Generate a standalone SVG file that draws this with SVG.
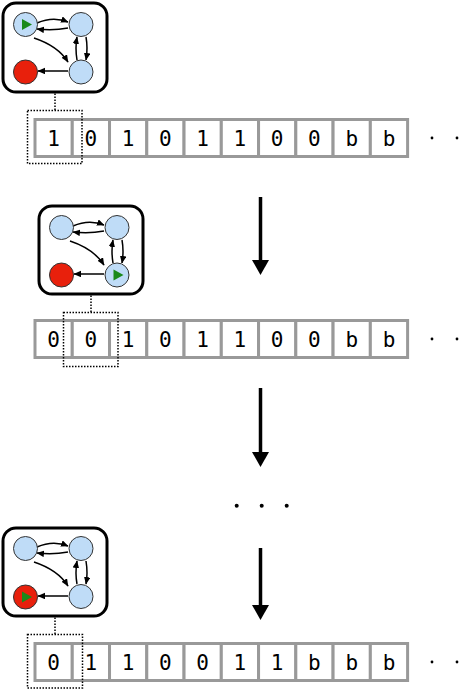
<svg xmlns="http://www.w3.org/2000/svg" width="462" height="691" viewBox="0 0 462 691">
<style>
.box{fill:#fff;stroke:#000;stroke-width:3}
.st{fill:#bfdcf7;stroke:#333;stroke-width:1}
.halt{fill:#e8200c;stroke:#333;stroke-width:1}
.tr{fill:none;stroke:#000;stroke-width:1.5;marker-end:url(#ah)}
.play{fill:#1a8a1a}
.cell{fill:#fff;stroke:#999;stroke-width:3}
.sym{font-family:"DejaVu Sans Mono","Liberation Mono",monospace;font-size:21px;text-anchor:middle;fill:#000}
.head{fill:none;stroke:#000;stroke-width:1.5;stroke-dasharray:1.5 1.5}
.big{stroke:#000;stroke-width:3.5;fill:none}
.dot{fill:#000}
</style>
<defs>
<marker id="ah" markerUnits="userSpaceOnUse" markerWidth="8" markerHeight="7" refX="7" refY="3.25" orient="auto">
<path d="M0,0 L7.5,3.25 L0,6.5 z" fill="#000"/>
</marker>
</defs>

<!-- machine 1 -->
<g id="machine1" transform="translate(3,3)">
<rect class="box" x="0" y="0" width="104" height="89" rx="13"/>
<g id="m1-transitions">
<path class="tr" d="M34,20 Q50,13 65,19"/>
<path class="tr" d="M65,25 Q50,28 34,26"/>
<path class="tr" d="M83,34 Q85,45 83,57"/>
<path class="tr" d="M74,57 Q72,45 74,34"/>
<path class="tr" d="M31,35 Q55,43 65,59"/>
<path class="tr" d="M65,68 L35,68"/>
</g>
<circle id="m1-a" class="st" cx="22.5" cy="21.5" r="12"/>
<circle id="m1-b" class="st" cx="78" cy="21.5" r="12"/>
<circle id="m1-c" class="halt" cx="22.5" cy="69" r="12"/>
<circle id="m1-d" class="st" cx="78" cy="69" r="12"/>
<polygon class="play" points="19,16 19,27 29,21.5"/>
</g>

<!-- machine 2 -->
<g id="machine2" transform="translate(39,206)">
<rect class="box" x="0" y="0" width="104" height="88" rx="13"/>
<g id="m2-transitions">
<path class="tr" d="M34,20 Q50,13 65,19"/>
<path class="tr" d="M65,25 Q50,28 34,26"/>
<path class="tr" d="M83,34 Q85,45 83,57"/>
<path class="tr" d="M74,57 Q72,45 74,34"/>
<path class="tr" d="M31,35 Q55,43 65,59"/>
<path class="tr" d="M65,68 L35,68"/>
</g>
<circle id="m2-a" class="st" cx="22.5" cy="21.5" r="12"/>
<circle id="m2-b" class="st" cx="78" cy="21.5" r="12"/>
<circle id="m2-c" class="halt" cx="22.5" cy="69" r="12"/>
<circle id="m2-d" class="st" cx="78" cy="69" r="12"/>
<polygon class="play" points="74.5,63.5 74.5,74.5 84.5,69"/>
</g>

<!-- machine 3 -->
<g id="machine3" transform="translate(3,528)">
<rect class="box" x="0" y="0" width="104" height="88" rx="13"/>
<g id="m3-transitions">
<path class="tr" d="M34,19 Q50,12 65,18"/>
<path class="tr" d="M65,24 Q50,27 34,25"/>
<path class="tr" d="M83,33 Q85,45 83,56"/>
<path class="tr" d="M74,56 Q72,45 74,33"/>
<path class="tr" d="M31,34 Q55,42 65,58"/>
<path class="tr" d="M65,68 L35,68"/>
</g>
<circle id="m3-a" class="st" cx="22.5" cy="20.5" r="12"/>
<circle id="m3-b" class="st" cx="78" cy="20.5" r="12"/>
<circle id="m3-c" class="halt" cx="22.5" cy="69" r="12"/>
<circle id="m3-d" class="st" cx="78" cy="68.5" r="12"/>
<polygon class="play" points="19,63.5 19,74.5 29,69"/>
</g>

<!-- tape 1 -->
<g id="tape1">
<rect class="cell" x="35" y="119.5" width="37.26" height="37"/>
<rect class="cell" x="72.26" y="119.5" width="37.26" height="37"/>
<rect class="cell" x="109.52" y="119.5" width="37.26" height="37"/>
<rect class="cell" x="146.78" y="119.5" width="37.26" height="37"/>
<rect class="cell" x="184.04" y="119.5" width="37.26" height="37"/>
<rect class="cell" x="221.3" y="119.5" width="37.26" height="37"/>
<rect class="cell" x="258.56" y="119.5" width="37.26" height="37"/>
<rect class="cell" x="295.82" y="119.5" width="37.26" height="37"/>
<rect class="cell" x="333.08" y="119.5" width="37.26" height="37"/>
<rect class="cell" x="370.34" y="119.5" width="37.26" height="37"/>
<text class="sym" x="53.63" y="146">1</text>
<text class="sym" x="90.89" y="146">0</text>
<text class="sym" x="128.15" y="146">1</text>
<text class="sym" x="165.41" y="146">0</text>
<text class="sym" x="202.67" y="146">1</text>
<text class="sym" x="239.93" y="146">1</text>
<text class="sym" x="277.19" y="146">0</text>
<text class="sym" x="314.45" y="146">0</text>
<text class="sym" x="351.71" y="146">b</text>
<text class="sym" x="388.97" y="146">b</text>
<circle class="dot" cx="432" cy="138" r="1.4"/>
<circle class="dot" cx="457" cy="138" r="1.4"/>
</g>

<!-- tape 2 -->
<g id="tape2">
<rect class="cell" x="35" y="320.5" width="37.26" height="37"/>
<rect class="cell" x="72.26" y="320.5" width="37.26" height="37"/>
<rect class="cell" x="109.52" y="320.5" width="37.26" height="37"/>
<rect class="cell" x="146.78" y="320.5" width="37.26" height="37"/>
<rect class="cell" x="184.04" y="320.5" width="37.26" height="37"/>
<rect class="cell" x="221.3" y="320.5" width="37.26" height="37"/>
<rect class="cell" x="258.56" y="320.5" width="37.26" height="37"/>
<rect class="cell" x="295.82" y="320.5" width="37.26" height="37"/>
<rect class="cell" x="333.08" y="320.5" width="37.26" height="37"/>
<rect class="cell" x="370.34" y="320.5" width="37.26" height="37"/>
<text class="sym" x="53.63" y="347">0</text>
<text class="sym" x="90.89" y="347">0</text>
<text class="sym" x="128.15" y="347">1</text>
<text class="sym" x="165.41" y="347">0</text>
<text class="sym" x="202.67" y="347">1</text>
<text class="sym" x="239.93" y="347">1</text>
<text class="sym" x="277.19" y="347">0</text>
<text class="sym" x="314.45" y="347">0</text>
<text class="sym" x="351.71" y="347">b</text>
<text class="sym" x="388.97" y="347">b</text>
<circle class="dot" cx="432" cy="339" r="1.4"/>
<circle class="dot" cx="457" cy="339" r="1.4"/>
</g>

<!-- tape 3 -->
<g id="tape3">
<rect class="cell" x="35" y="643.5" width="37.26" height="37"/>
<rect class="cell" x="72.26" y="643.5" width="37.26" height="37"/>
<rect class="cell" x="109.52" y="643.5" width="37.26" height="37"/>
<rect class="cell" x="146.78" y="643.5" width="37.26" height="37"/>
<rect class="cell" x="184.04" y="643.5" width="37.26" height="37"/>
<rect class="cell" x="221.3" y="643.5" width="37.26" height="37"/>
<rect class="cell" x="258.56" y="643.5" width="37.26" height="37"/>
<rect class="cell" x="295.82" y="643.5" width="37.26" height="37"/>
<rect class="cell" x="333.08" y="643.5" width="37.26" height="37"/>
<rect class="cell" x="370.34" y="643.5" width="37.26" height="37"/>
<text class="sym" x="53.63" y="670">0</text>
<text class="sym" x="90.89" y="670">1</text>
<text class="sym" x="128.15" y="670">1</text>
<text class="sym" x="165.41" y="670">0</text>
<text class="sym" x="202.67" y="670">0</text>
<text class="sym" x="239.93" y="670">1</text>
<text class="sym" x="277.19" y="670">1</text>
<text class="sym" x="314.45" y="670">b</text>
<text class="sym" x="351.71" y="670">b</text>
<text class="sym" x="388.97" y="670">b</text>
<circle class="dot" cx="432" cy="662" r="1.4"/>
<circle class="dot" cx="457" cy="662" r="1.4"/>
</g>

<!-- connectors: read heads and step arrows -->
<g id="connectors">
<path class="head" d="M55,93.5 V110.5"/>
<rect class="head" x="27.5" y="110.5" width="54.5" height="53"/>
<path class="head" d="M91,295.5 V312.5"/>
<rect class="head" x="63.5" y="312.5" width="54.5" height="54"/>
<path class="head" d="M55,617.5 V634.5"/>
<rect class="head" x="27.5" y="634.5" width="55" height="53.5"/>

<path class="big" d="M260.5,197 V262"/>
<polygon points="252,260 269,260 260.5,275" fill="#000"/>
<path class="big" d="M260.5,388 V454"/>
<polygon points="252,452 269,452 260.5,467" fill="#000"/>
<path class="big" d="M260.5,548 V607"/>
<polygon points="252,605 269,605 260.5,620" fill="#000"/>
</g>

<g id="ellipsis">
<circle class="dot" cx="236.7" cy="505.7" r="2"/>
<circle class="dot" cx="261.7" cy="505.7" r="2"/>
<circle class="dot" cx="286.7" cy="505.7" r="2"/>
</g>
</svg>
